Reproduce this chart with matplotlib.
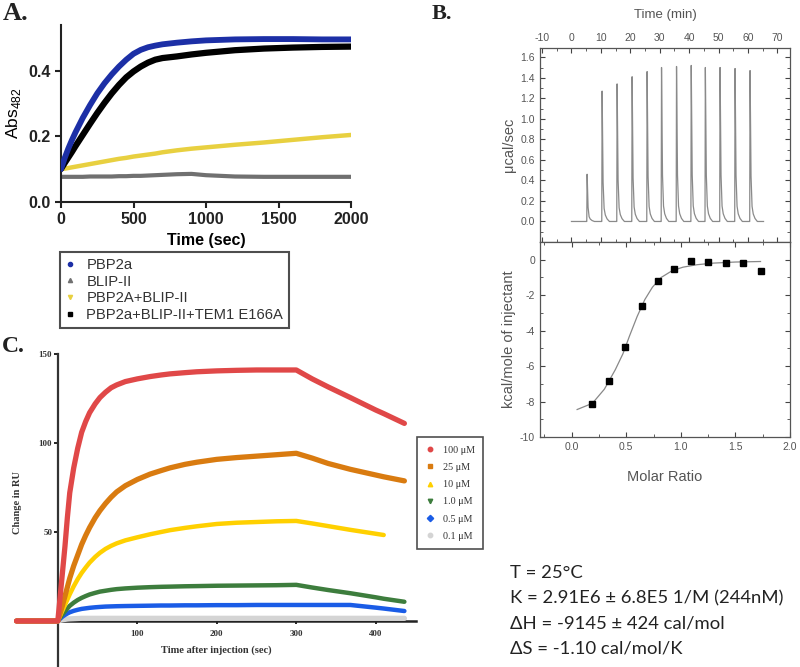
import numpy as np
import matplotlib
matplotlib.use("Agg")
import matplotlib.pyplot as plt
from matplotlib.lines import Line2D

plt.rcParams["axes.unicode_minus"] = False
W, H = 800, 667

# ---------------- Panel A: absorbance kinetics ----------------
A_TIME = [0, 25, 50, 75, 100, 150, 200, 250, 300, 350, 400, 450, 500, 550, 600, 650,
          700, 800, 900, 1000, 1200, 1400, 1600, 1800, 2000]
A_PBP2A = [0.100, 0.133, 0.162, 0.188, 0.212, 0.256, 0.295, 0.331, 0.362, 0.389, 0.413,
           0.434, 0.452, 0.464, 0.472, 0.477, 0.481, 0.486, 0.490, 0.493, 0.496, 0.497,
           0.497, 0.496, 0.496]
A_BLIP = [0.076, 0.076, 0.076, 0.076, 0.076, 0.076, 0.077, 0.077, 0.077, 0.077, 0.078,
          0.078, 0.079, 0.079, 0.080, 0.081, 0.082, 0.084, 0.085, 0.081, 0.077, 0.076,
          0.076, 0.076, 0.076]
A_PBP2A_BLIP = [0.100, 0.101, 0.103, 0.105, 0.107, 0.111, 0.115, 0.119, 0.123, 0.127,
                0.131, 0.134, 0.138, 0.141, 0.144, 0.147, 0.151, 0.157, 0.162, 0.166,
                0.174, 0.181, 0.189, 0.197, 0.204]
A_TRIPLE = [0.100, 0.118, 0.135, 0.152, 0.170, 0.204, 0.238, 0.271, 0.302, 0.331, 0.357,
            0.380, 0.398, 0.413, 0.425, 0.434, 0.439, 0.444, 0.450, 0.455, 0.463, 0.468,
            0.471, 0.473, 0.474]
A_LABELS = ["PBP2a", "BLIP-II", "PBP2A+BLIP-II", "PBP2a+BLIP-II+TEM1 E166A"]
A_COLORS = ["#1c2fa6", "#707070", "#e8d040", "black"]
A_MARKERS = ["o", "^", "v", "s"]

# ---------------- Panel B: ITC ----------------
ITC_PEAK_TIMES = [5.2, 10.3, 15.4, 20.5, 25.6, 30.5, 35.6, 40.6, 45.4, 50.4, 55.5, 60.6]
ITC_PEAK_HEIGHTS = [0.46, 1.27, 1.34, 1.41, 1.46, 1.50, 1.51, 1.52, 1.50, 1.50, 1.49, 1.47]
# shape of one injection peak (minutes after injection, fraction of peak height)
PEAK_DT = [-0.05, 0.0, 0.12, 0.45, 0.8, 1.2, 1.8, 2.6]
PEAK_FRAC = [0.0, 0.0, 1.0, 0.30, 0.10, 0.05, 0.02, 0.0]
ITC_START, ITC_END = 0.0, 65.3

MOLAR_RATIO = [0.19, 0.34, 0.49, 0.64, 0.79, 0.94, 1.09, 1.25, 1.41, 1.57, 1.73]
HEAT = [-8.15, -6.85, -4.9, -2.6, -1.2, -0.5, -0.05, -0.15, -0.2, -0.2, -0.65]
FIT_X = [0.05, 0.19, 0.30, 0.40, 0.47, 0.53, 0.60, 0.67, 0.74, 0.82, 0.92, 1.02,
         1.15, 1.30, 1.50, 1.73]
FIT_Y = [-8.45, -8.1, -7.3, -6.2, -5.3, -4.3, -3.2, -2.25, -1.55, -1.0, -0.62, -0.42,
         -0.28, -0.19, -0.13, -0.1]
ITC_TEXT = ["T = 25°C",
            "K = 2.91E6 ± 6.8E5 1/M (244nM)",
            "ΔH = -9145 ± 424 cal/mol",
            "ΔS = -1.10 cal/mol/K"]

# ---------------- Panel C: SPR ----------------
C_TIME = [-52, -25, 0, 3, 6, 9, 12, 15, 20, 25, 30, 35, 40, 47, 53, 60, 67, 74, 85,
          100, 116, 130, 141, 160, 175, 200, 225, 250, 275, 300, 320, 340, 368, 400,
          410, 436]
C_100 = [0, 0, 0, 14, 28, 42, 58, 72, 86, 97, 106, 112, 117, 122, 125.5, 128.5, 131,
         132.6, 134.5, 136, 137.3, 138.2, 138.8, 139.5, 140, 140.5, 140.8, 141, 141, 141,
         136, 131.5, 125.5, 118.5, 116.5, 111]
C_25 = [0, 0, 0, 4.5, 9, 14, 19, 24, 31, 37, 43, 48, 52.5, 58, 62, 66, 69.5, 72.5, 76,
        79.5, 82.5, 84.5, 86, 88, 89.2, 90.8, 91.8, 92.6, 93.4, 94.2, 91.5, 88.5, 85.2,
        82, 81, 78.7]
C_10 = [0, 0, 0, 3, 6, 9, 12, 15, 19.5, 23.5, 27, 30, 32.8, 36, 38.3, 40.5, 42.2, 43.6,
        45.3, 47, 48.7, 50, 51, 52.3, 53.2, 54.5, 55.2, 55.6, 56, 56.2, 54.8, 53.3, 51.2,
        49, 48.3, np.nan]
C_1 = [0, 0, 0, 2, 3.8, 5.5, 7, 8.5, 10.3, 11.8, 13, 14, 14.9, 15.8, 16.5, 17, 17.5,
       17.9, 18.3, 18.7, 19, 19.2, 19.3, 19.5, 19.6, 19.8, 19.9, 20, 20.1, 20.3, 18.8,
       17.4, 15.6, 13.3, 12.5, 10.8]
C_05 = [0, 0, 0, 1.3, 2.5, 3.4, 4.2, 4.9, 5.7, 6.3, 6.8, 7.1, 7.4, 7.7, 7.9, 8.1, 8.2,
        8.3, 8.4, 8.5, 8.6, 8.7, 8.7, 8.8, 8.8, 8.9, 8.9, 9, 9, 9, 9, 9, 9, 7.5, 7.0, 5.6]
C_01 = [0, 0, 0, 0.4, 0.7, 0.9, 1.1, 1.2, 1.3, 1.4, 1.5, 1.5, 1.5, 1.5, 1.5, 1.5, 1.5,
        1.5, 1.5, 1.5, 1.5, 1.5, 1.5, 1.5, 1.5, 1.5, 1.5, 1.5, 1.5, 1.5, 1.5, 1.5, 1.5,
        1.5, 1.5, 1.5]
C_LABELS = ["100 μM", "25 μM", "10 μM", "1.0 μM", "0.5 μM", "0.1 μM"]
C_COLORS = ["#e04848", "#d97b10", "#ffd000", "#3d7d3d", "#1a5ce6", "#d4d4d4"]
C_MARKERS = ["o", "s", "^", "v", "D", "o"]


def px_axes(fig, left, top, right, bottom):
    """Add axes using a pixel box (origin top-left)."""
    return fig.add_axes([left / W, 1 - bottom / H, (right - left) / W, (bottom - top) / H])


fig = plt.figure(figsize=(8, 6.67), dpi=100)
serif = ["Liberation Serif", "DejaVu Serif"]
sans = ["Liberation Sans", "DejaVu Sans"]

# ===== Panel A =====
axA = px_axes(fig, 61, 25, 351, 201.7)
a_series = [A_PBP2A, A_BLIP, A_PBP2A_BLIP, A_TRIPLE]
for vals, col, lw, z in zip(a_series, A_COLORS, [4.2, 3.0, 3.2, 4.5], [4, 2, 3, 3]):
    axA.plot(A_TIME, vals, color=col, lw=lw, solid_capstyle="round", zorder=z)
axA.set_xlim(0, 2000)
axA.set_ylim(0, 0.54)
axA.set_xticks([0, 500, 1000, 1500, 2000])
axA.set_yticks([0.0, 0.2, 0.4])
axA.set_yticklabels(["0.0", "0.2", "0.4"])
for s in ["top", "right"]:
    axA.spines[s].set_visible(False)
for s in ["left", "bottom"]:
    axA.spines[s].set_linewidth(1.5)
    axA.spines[s].set_color("#222222")
axA.tick_params(direction="out", length=4, width=1.5, labelsize=11.5, colors="#222222")
for lab in axA.get_xticklabels() + axA.get_yticklabels():
    lab.set_fontweight("bold")
    lab.set_family(sans)
axA.set_xlabel("Time (sec)", fontsize=11.5, fontweight="bold", family=sans, labelpad=4)
axA.set_ylabel("Abs$_{\\mathregular{482}}$", fontsize=12.5, family=sans, labelpad=4)

handles = [Line2D([], [], ls="none", marker=m, color=c, ms=3)
           for m, c in zip(A_MARKERS, A_COLORS)]
legA = fig.legend(handles, A_LABELS, loc="upper left", bbox_to_anchor=(60 / W, 1 - 252 / H),
                  frameon=True, fancybox=False, edgecolor="#222222",
                  prop={"family": sans, "size": 10.6}, handlelength=0.6, handletextpad=0.8,
                  labelspacing=0.18, borderpad=0.4, borderaxespad=0)
legA.get_frame().set_linewidth(1.5)
for t in legA.get_texts():
    t.set_color("#333333")

# ===== Panel B: thermogram =====
gray_txt = "#555555"
axB1 = px_axes(fig, 540, 48, 790, 242)
tt = [ITC_START]
yy = [0.0]
for t0, h in zip(ITC_PEAK_TIMES, ITC_PEAK_HEIGHTS):
    tt.extend([t0 + d for d in PEAK_DT])
    yy.extend([h * f for f in PEAK_FRAC])
tt.append(ITC_END)
yy.append(0.0)
axB1.plot(tt, yy, color="#8a8a8a", lw=0.9)
axB1.set_xlim(-10.7, 74.3)
axB1.set_ylim(-0.2, 1.69)
axB1.set_yticks(np.arange(0.0, 1.61, 0.2))
axB1.set_yticklabels([f"{v:.1f}" for v in np.arange(0.0, 1.61, 0.2)])
axB1.set_yticks(np.arange(-0.1, 1.7, 0.2), minor=True)
axB1.set_xticks(np.arange(-10, 71, 10))
axB1.set_xticks(np.arange(-5, 75, 10), minor=True)
axB1.xaxis.tick_top()
axB1.xaxis.set_label_position("top")
axB1.tick_params(which="both", top=True, bottom=True, left=True, right=True,
                 direction="in", colors="#444444", labelcolor=gray_txt, labelsize=7.5,
                 labelbottom=False)
axB1.tick_params(which="major", length=3.5, width=0.8)
axB1.tick_params(which="minor", length=2, width=0.6)
axB1.set_xlabel("Time (min)", fontsize=9.5, color=gray_txt, labelpad=11, family=sans)
axB1.set_ylabel("μcal/sec", fontsize=10.5, color=gray_txt, labelpad=3, family=sans)

axB2 = px_axes(fig, 540, 242, 790, 437)
axB2.plot(FIT_X, FIT_Y, color="#888888", lw=0.9)
axB2.plot(MOLAR_RATIO, HEAT, ls="none", marker="s", color="black", ms=4.5)
axB2.set_xlim(-0.29, 2.0)
axB2.set_ylim(-10, 1.0)
axB2.set_yticks([0, -2, -4, -6, -8, -10])
axB2.set_yticklabels(["0", "-2", "-4", "-6", "-8", "-10"])
axB2.set_yticks([-1, -3, -5, -7, -9], minor=True)
axB2.set_xticks([0.0, 0.5, 1.0, 1.5, 2.0])
axB2.set_xticklabels(["0.0", "0.5", "1.0", "1.5", "2.0"])
axB2.set_xticks([-0.25, 0.25, 0.75, 1.25, 1.75], minor=True)
axB2.tick_params(which="both", top=True, bottom=True, left=True, right=True,
                 direction="in", colors="#444444", labelcolor=gray_txt, labelsize=7.5)
axB2.tick_params(which="major", length=3.5, width=0.8)
axB2.tick_params(which="minor", length=2, width=0.6)
axB2.set_xlabel("Molar Ratio", fontsize=10.5, color=gray_txt, labelpad=13, family=sans)
axB2.set_ylabel("kcal/mole of injectant", fontsize=10.5, color=gray_txt, labelpad=3,
                family=sans)
for ax in (axB1, axB2):
    for s in ax.spines.values():
        s.set_color("#555555")
        s.set_linewidth(0.9)
    for lab in ax.get_xticklabels() + ax.get_yticklabels():
        lab.set_family(sans)

for i, line in enumerate(ITC_TEXT):
    fig.text(510 / W, 1 - (573.5 + 25 * i) / H, line, fontsize=13.3,
             family=["Lato", "DejaVu Sans"], va="center", ha="left", color="#222222")

# ===== Panel C: SPR =====
axC = px_axes(fig, 14.1, 350.4, 417.1, 665.5)
c_series = [C_100, C_25, C_10, C_1, C_05, C_01]
widths = [3.8, 3.8, 3.2, 3.2, 3.2, 3.8]
zorders = [8, 7, 6, 5, 4, 3]
for vals, col, lw, z in zip(c_series, C_COLORS, widths, zorders):
    axC.plot(C_TIME, vals, color=col, lw=lw, solid_capstyle="round",
             solid_joinstyle="round", zorder=z)
axC.set_xlim(-55, 452)
axC.set_ylim(-25, 152)
axC.spines["left"].set_position(("data", 0))
axC.spines["bottom"].set_position(("data", 0))
axC.spines["left"].set_bounds(-25, 150)
axC.spines["bottom"].set_bounds(0, 450)
axC.spines["left"].set_linewidth(1.6)
axC.spines["bottom"].set_linewidth(1.8)
axC.spines["left"].set_color("#333333")
axC.spines["bottom"].set_color("#222222")
for s in ["top", "right"]:
    axC.spines[s].set_visible(False)
axC.set_yticks([50, 100, 150])
axC.set_xticks([100, 200, 300, 400])
axC.tick_params(axis="y", direction="out", length=3, width=1.2, labelsize=6.5, pad=1)
axC.tick_params(axis="x", direction="inout", length=5, width=1.2, labelsize=6.5, pad=4)
for lab in axC.get_xticklabels() + axC.get_yticklabels():
    lab.set_fontweight("bold")
    lab.set_family(serif)
    lab.set_color("#333333")
fig.text(216.7 / W, 1 - 650 / H, "Time after injection (sec)", ha="center", va="center",
         fontsize=7.5, fontweight="bold", family=serif, color="#333333")
fig.text(18 / W, 1 - 503 / H, "Change in RU", ha="center", va="center", rotation=90,
         fontsize=7.5, fontweight="bold", family=serif, color="#333333")

handlesC = [Line2D([], [], ls="none", marker=m, color=c, ms=3.2)
            for m, c in zip(C_MARKERS, C_COLORS)]
legC = fig.legend(handlesC, C_LABELS, loc="upper left", bbox_to_anchor=(417 / W, 1 - 437 / H),
                  frameon=True, fancybox=False, edgecolor="#222222",
                  prop={"family": serif, "size": 7.3}, handlelength=0.8, handletextpad=0.9,
                  labelspacing=0.8, borderpad=0.85, borderaxespad=0)
legC.get_frame().set_linewidth(1.2)
for t in legC.get_texts():
    t.set_color("#333333")

# ===== Panel labels =====
for txt, x, y, size in [("A.", 3, 13, 19), ("B.", 432, 14, 16), ("C.", 2, 347, 17)]:
    fig.text(x / W, 1 - y / H, txt, fontsize=size, fontweight="bold", family=serif,
             va="center", ha="left", color="#222222")

fig.savefig("out.png", dpi=100, facecolor="white")
